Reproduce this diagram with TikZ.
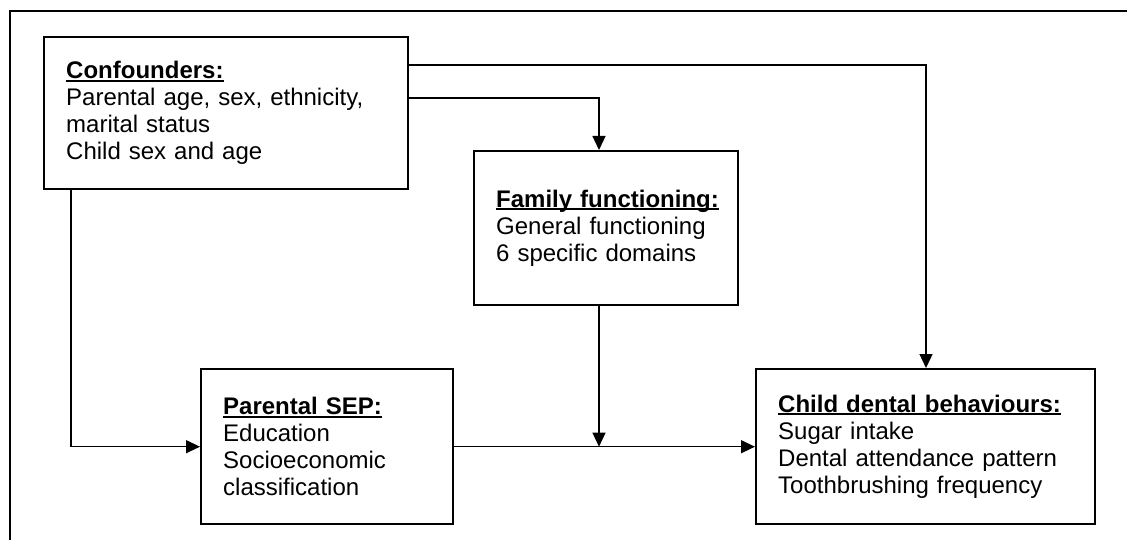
\documentclass[tikz,border=0pt]{standalone}
\usepackage{fontspec}
\setmainfont{Liberation Sans}
\usetikzlibrary{arrows.meta,calc}
\newcommand{\ulbox}[1]{\setbox0\hbox{#1}\rlap{\rule[-2.8pt]{\wd0}{1.8pt}}\box0}
\begin{document}
\begin{tikzpicture}[x=1pt,y=-1pt,
  box/.style={draw,line width=2.4pt,anchor=north west,align=left,inner xsep=22pt,inner ysep=0pt,font=\fontsize{24}{27}\selectfont},
  conn/.style={line width=1.3pt},
  arr/.style={conn,-{Triangle[length=14pt,width=13pt]}}]
\clip (0,0) rectangle (1127,540);
\draw[line width=2.6pt] (10,600) -- (10,11) -- (1200,11);
\node[box,text width=320pt,minimum height=152pt] (conf) at (43,36)
  {\ulbox{\bfseries Confounders:}\\Parental age, sex, ethnicity,\\marital status\\Child sex and age};
\node[box,text width=220pt,minimum height=154pt] (fam) at (473,150)
  {\ulbox{\bfseries Family functioning:}\\General functioning\\6 specific domains};
\node[box,text width=208pt,minimum height=155pt] (sep) at (200,368)
  {\ulbox{\bfseries Parental SEP:}\\Education\\Socioeconomic\\classification};
\node[box,text width=295pt,minimum height=155pt] (child) at (755,368)
  {\ulbox{\bfseries Child dental behaviours:}\\Sugar intake\\Dental attendance pattern\\Toothbrushing frequency};
\coordinate (fx) at ($(fam.south west)+(126,0)$);
\draw[arr] ($(conf.north east)+(0,29)$) -| ($(child.north west)+(171,0)$);
\draw[arr] ($(conf.north east)+(0,62)$) -| ($(fam.north west)+(126,0)$);
\draw[arr] ($(conf.south west)+(28,0)$) |- (sep.west);
\draw[arr] (sep.east) -- (child.west);
\draw[arr] (fx) -- (fx |- sep.east);
\end{tikzpicture}
\end{document}
